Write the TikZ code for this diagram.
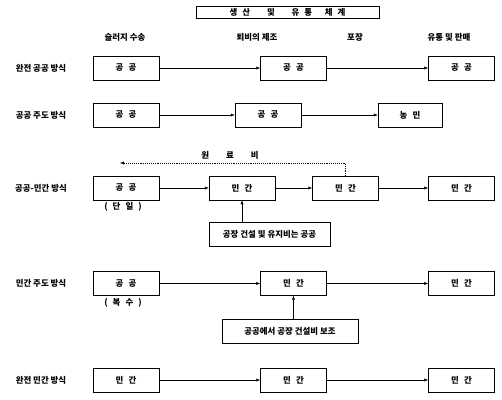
\documentclass[tikz,border=0pt]{standalone}
\usepackage{fontspec}
\newfontfamily\kr{Noto Sans CJK KR}
\usetikzlibrary{arrows.meta}

\newcommand{\gap}{\hspace{0.6em}}

\begin{document}
\begin{tikzpicture}[x=0.5mm,y=-0.5mm,
  txt/.style={font=\kr\bfseries\fontsize{12}{14}\selectfont,inner sep=0pt},
  box/.style={txt,draw,line width=0.7pt,minimum width=33mm,minimum height=12mm},
  flow/.style={line width=0.7pt,-{Latex[length=2mm,width=1.6mm]}}]
  \useasboundingbox (0,0) rectangle (502,400);
  % title
  \node[txt,draw,line width=0.7pt,minimum width=91.5mm,minimum height=6mm] (title) at (287.5,12) {생\gap 산\hspace{2em}및\hspace{2em}유\gap 통\hspace{1.5em}체\gap 계};
  % column heads
  \node[txt] (h1) at (125,37) {슬러지 수송};
  \node[txt] (h2) at (257,37) {퇴비의 제조};
  \node[txt] (h3) at (355,37) {포장};
  \node[txt] (h4) at (449,37) {유통 및 판매};
  % row labels
  \node[txt] (r1) at (41,68) {완전 공공 방식};
  \node[txt] (r2) at (41,115) {공공 주도 방식};
  \node[txt] (r3) at (41,188) {공공-민간 방식};
  \node[txt] (r4) at (41,283.5) {민간 주도 방식};
  \node[txt] (r5) at (41,380) {완전 민간 방식};
  % row 1
  \node[box] (a1) at (126,68) {공\gap 공};
  \node[box] (a2) at (293.5,68) {공\gap 공};
  \node[box] (a3) at (461.5,68) {공\gap 공};
  \draw[flow] (a1) -- (a2);
  \draw[flow] (a2) -- (a3);
  % row 2
  \node[box] (b1) at (126,115) {공\gap 공};
  \node[box] (b2) at (268,115) {공\gap 공};
  \node[box,minimum width=32mm] (b3) at (410,115) {농\gap 민};
  \draw[flow] (b1) -- (b2);
  \draw[flow] (b2) -- (b3);
  % row 3
  \node[box] (c1) at (126,188) {공\gap 공};
  \node[box] (c2) at (242,188) {민\gap 간};
  \node[box] (c3) at (345.5,188) {민\gap 간};
  \node[box] (c4) at (461.5,188) {민\gap 간};
  \node[txt] (c1n) at (123,207) {(\gap 단\gap 일\gap )};
  \draw[flow] (c1) -- (c2);
  \draw[flow] (c2) -- (c3);
  \draw[flow] (c3) -- (c4);
  \coordinate (fee) at (120,163);
  \draw[line width=0.7pt,dotted,-{Latex[length=2mm,width=1.6mm]}] (c3.north) |- (fee);
  \node[txt] (feel) at (230,155) {원\hspace{2em}료\hspace{2em}비};
  \node[box,minimum width=60.5mm] (s1) at (269.5,234.5) {공장 건설 및 유지비는 공공};
  \draw[flow] (c2.south |- s1.north) -- (c2.south);
  % row 4
  \node[box] (d1) at (126,283.5) {공\gap 공};
  \node[box] (d2) at (293.5,283.5) {민\gap 간};
  \node[box] (d3) at (461.5,283.5) {민\gap 간};
  \node[txt] (d1n) at (123,303) {(\gap 복\gap 수\gap )};
  \draw[flow] (d1) -- (d2);
  \draw[flow] (d2) -- (d3);
  \node[box,minimum width=68mm] (s2) at (290,331) {공공에서 공장 건설비 보조};
  \draw[flow] (d2.south |- s2.north) -- (d2.south);
  % row 5
  \node[box] (e1) at (126,380) {민\gap 간};
  \node[box] (e2) at (293.5,380) {민\gap 간};
  \node[box] (e3) at (461.5,380) {민\gap 간};
  \draw[flow] (e1) -- (e2);
  \draw[flow] (e2) -- (e3);
\end{tikzpicture}
\end{document}
